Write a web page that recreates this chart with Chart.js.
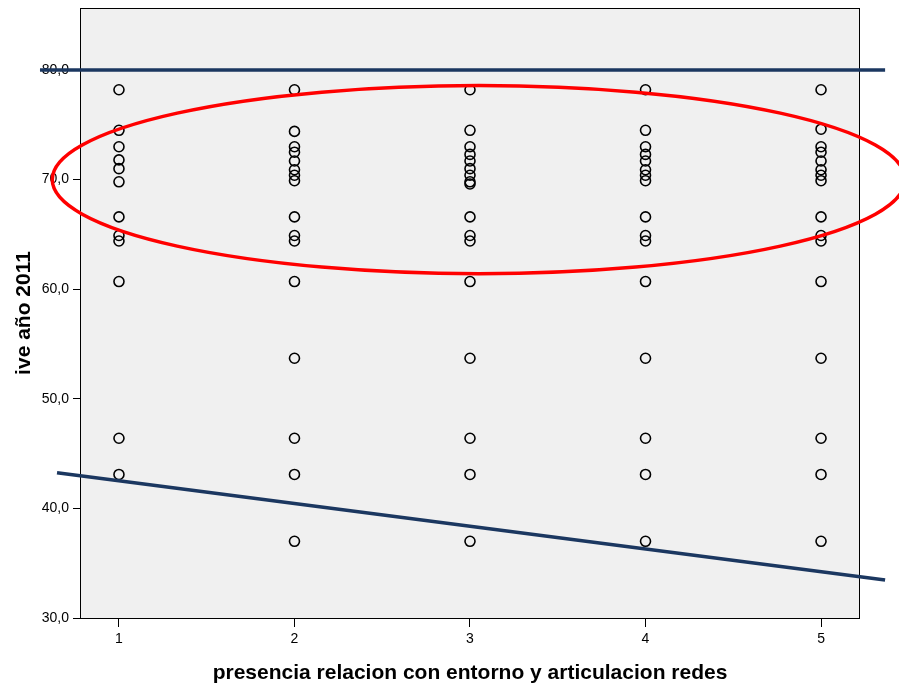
<!DOCTYPE html>
<html>
<head>
<meta charset="utf-8">
<title>ive año 2011</title>
<script src="https://cdn.jsdelivr.net/npm/chart.js@4.4.1/dist/chart.umd.min.js"></script>
<style>
  html, body { margin: 0; padding: 0; background: #fff; }
  canvas { display: block; }
</style>
</head>
<body>
<canvas id="ive" width="899" height="687"></canvas>
<script>
// categories on the x axis
const categories = [1, 2, 3, 4, 5];

// ive año 2011 values per category
const ive1 = [78.2, 74.5, 73.0, 71.8, 71.0, 69.8, 66.6, 64.9, 64.4, 60.7, 46.4, 43.1];
const ive2 = [78.2, 74.4, 73.0, 72.5, 71.7, 70.9, 70.4, 69.9, 66.6, 64.9, 64.4, 60.7, 53.7, 46.4, 43.1, 37.0];
const ive3 = [78.2, 74.5, 73.0, 72.3, 71.7, 71.0, 70.4, 69.8, 69.6, 66.6, 64.9, 64.4, 60.7, 53.7, 46.4, 43.1, 37.0];
const ive4 = [78.2, 74.5, 73.0, 72.3, 71.7, 70.9, 70.4, 69.9, 66.6, 64.9, 64.4, 60.7, 53.7, 46.4, 43.1, 37.0];
const ive5 = [78.2, 74.6, 73.0, 72.5, 71.7, 70.9, 70.4, 69.9, 66.6, 64.9, 64.4, 60.7, 53.7, 46.4, 43.1, 37.0];
const columns = [ive1, ive2, ive3, ive4, ive5];

const yTicks = [30, 40, 50, 60, 70, 80];
const yMin = 30, yMax = 85.66;
const xMin = 0.778, xMax = 5.222;

// reference lines
const topLineX = [0.55, 5.365];
const topLineY = [80, 80];
const lowLineX = [0.647, 5.365];
const lowLineY = [43.26, 33.47];

// highlighted group (centre and radii in data units)
const ringCenter = [3.05, 70.0];
const ringRadius = [2.43, 8.58];

const points = [];
columns.forEach((vals, i) => {
  vals.forEach(v => points.push({ x: categories[i], y: v }));
});

const NAVY = '#1b3760';

const frame = {
  id: 'frame',
  beforeDatasetsDraw(chart) {
    const { ctx, chartArea: a } = chart;
    ctx.save();
    ctx.fillStyle = '#f0f0f0';
    ctx.fillRect(a.left, a.top, a.right - a.left, a.bottom - a.top);
    ctx.strokeStyle = '#000';
    ctx.lineWidth = 1;
    ctx.strokeRect(a.left + 0.5, a.top + 0.5, a.right - a.left - 1, a.bottom - a.top);
    ctx.restore();
  }
};

const ring = {
  id: 'ring',
  afterDatasetsDraw(chart) {
    const { ctx, scales: { x, y } } = chart;
    const cx = x.getPixelForValue(ringCenter[0]);
    const cy = y.getPixelForValue(ringCenter[1]);
    const rx = Math.abs(x.getPixelForValue(ringCenter[0] + ringRadius[0]) - cx);
    const ry = Math.abs(y.getPixelForValue(ringCenter[1] + ringRadius[1]) - cy);
    ctx.save();
    ctx.strokeStyle = '#ff0000';
    ctx.lineWidth = 3.5;
    ctx.beginPath();
    ctx.ellipse(cx, cy, rx, ry, 0, 0, Math.PI * 2);
    ctx.stroke();
    ctx.restore();
  }
};

new Chart(document.getElementById('ive'), {
  type: 'scatter',
  data: {
    datasets: [
      {
        type: 'line',
        data: topLineX.map((x, i) => ({ x, y: topLineY[i] })),
        borderColor: NAVY,
        borderWidth: 3.5,
        pointRadius: 0,
        clip: false,
        order: 0
      },
      {
        type: 'line',
        data: lowLineX.map((x, i) => ({ x, y: lowLineY[i] })),
        borderColor: NAVY,
        borderWidth: 3.5,
        pointRadius: 0,
        clip: false,
        order: 0
      },
      {
        data: points,
        pointStyle: 'circle',
        pointRadius: 5,
        pointBorderWidth: 1.6,
        pointBorderColor: '#000',
        pointBackgroundColor: 'rgba(0,0,0,0)',
        order: 1
      }
    ]
  },
  options: {
    responsive: false,
    animation: false,
    layout: { padding: { top: 8, right: 39, left: 0, bottom: 0 } },
    plugins: { legend: { display: false }, tooltip: { enabled: false } },
    scales: {
      x: {
        type: 'linear',
        min: xMin,
        max: xMax,
        afterBuildTicks: s => { s.ticks = categories.map(v => ({ value: v })); },
        afterFit: s => { s.height = 69; },
        border: { display: false },
        grid: { drawOnChartArea: false, tickLength: 9, tickColor: '#000', tickWidth: 1 },
        ticks: {
          color: '#000',
          padding: 4,
          maxRotation: 0,
          font: { family: 'Liberation Sans, Arial', size: 14 }
        },
        title: {
          display: true,
          text: 'presencia relacion con entorno y articulacion redes',
          color: '#000',
          padding: { top: 0, bottom: 1 },
          font: { family: 'Liberation Sans, Arial', size: 21, weight: 'bold' }
        }
      },
      y: {
        min: yMin,
        max: yMax,
        afterBuildTicks: s => { s.ticks = yTicks.map(v => ({ value: v })); },
        afterFit: s => { s.width = 80; s.paddingTop = 0; },
        border: { display: false },
        grid: { drawOnChartArea: false, tickLength: 7, tickColor: '#000', tickWidth: 1 },
        ticks: {
          color: '#000',
          padding: 4,
          font: { family: 'Liberation Sans, Arial', size: 14 },
          callback: v => v.toFixed(1).replace('.', ',')
        },
        title: {
          display: true,
          text: 'ive año 2011',
          color: '#000',
          padding: { top: 12, bottom: 0 },
          font: { family: 'Liberation Sans, Arial', size: 21, weight: 'bold' }
        }
      }
    }
  },
  plugins: [frame, ring]
});
</script>
</body>
</html>
